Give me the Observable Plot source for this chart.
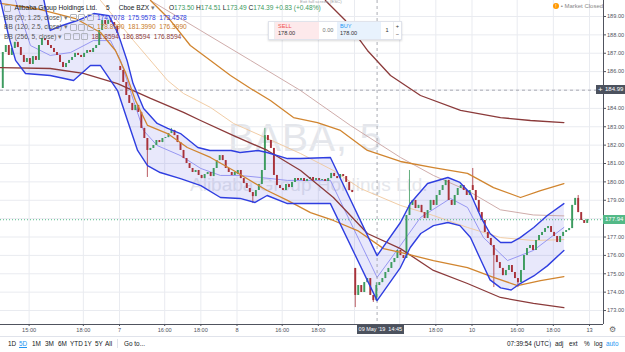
<!DOCTYPE html>
<html><head><meta charset="utf-8">
<script src="https://cdn.jsdelivr.net/npm/d3@7"></script>
<script src="https://cdn.jsdelivr.net/npm/@observablehq/plot@0.6"></script>
<style>
html,body{margin:0;padding:0;background:#fff;}
body{width:625px;height:352px;overflow:hidden;position:relative;font-family:"Liberation Sans",Arial,sans-serif;color:#131722;}
#chart{position:absolute;left:0;top:0;z-index:2;}
.abs{position:absolute;white-space:nowrap;}
.wm1{font-size:39px;color:#e4e6eb;letter-spacing:1px;z-index:1;}
.wm2{font-size:19px;color:#e4e6eb;z-index:1;}
.leg{font-size:6.6px;z-index:3;line-height:8px;}
.ic{display:inline-block;width:5px;height:5px;border:0.8px solid #b2b5be;margin-right:1.5px;vertical-align:middle;border-radius:1px;}
.lbl{z-index:4;font-size:6px;color:#fff;padding:0 2px;height:9px;line-height:9px;}
.tb{font-size:6.4px;color:#131722;z-index:3;}
</style></head><body>
<div id="root"></div>
<script>
// ---------- data ----------
const tickBars   = [18, 54, 78, 108, 132, 156, 186, 210, 234, 264, 288, 312, 342, 366, 390];
const tickLabels = ["15:00","18:00","7","16:00","18:00","8","16:00","18:00","9","16:00","18:00","10","16:00","18:00","13"];
const priceTicks = [173,174,175,176,177,178,179,180,181,182,183,184,185,186,187,188,189];

// 10-minute closes per session (May 6..10, 2019)
const day6  = [187.04,187.42,186.88,187.26,187.59,187.31,186.88,186.50,186.71,186.39,186.82,186.61,187.42,187.80,187.69,187.42,187.26,187.04,186.88,186.50,186.22,186.44,186.61,186.77,186.99,186.88,186.77,186.99,187.15,187.04,187.26,187.42,188.24,188.78,188.57,188.78,188.67,188.46,188.08];
const day7  = [186.06,185.41,184.70,184.27,183.88,184.16,183.78,182.91,182.36,181.71,181.82,181.98,182.25,182.14,182.36,182.41,182.63,182.80,182.52,182.14,181.71,181.27,181.00,180.73,180.51,180.62,180.35,180.18,180.40,180.51,180.29,180.73,181.16,181.43,181.16,180.73,180.51,180.35,180.51];
const day8  = [180.62,180.18,179.91,179.64,179.42,179.20,179.53,179.86,180.62,182.52,182.25,181.82,180.35,179.80,179.64,179.53,179.86,179.69,179.97,180.18,180.08,180.18,180.02,180.13,180.24,180.08,180.18,180.08,180.13,180.02,180.18,180.46,180.29,180.18,180.40,180.29,179.97,179.53,179.42];
const day9  = [173.82,174.36,173.98,174.52,174.74,173.82,173.54,174.36,174.52,174.74,175.07,175.29,175.61,175.83,176.27,175.99,175.83,178.17,178.72,178.99,178.55,178.72,178.33,178.01,178.44,178.99,178.72,179.26,179.53,179.80,180.08,178.99,178.72,179.26,179.64,179.80,179.53,179.26,179.53];
const day10 = [179.53,178.99,178.33,177.90,177.25,176.92,176.54,175.99,175.61,175.29,174.90,175.18,175.45,175.07,174.74,174.52,175.18,175.99,176.37,176.54,176.27,176.81,177.08,177.25,177.46,177.57,177.25,177.03,176.70,177.03,177.25,177.35,177.46,178.72,179.10,178.33,177.90,177.74,177.94];
const dayOpens = [185.08,186.28,180.40,175.29,179.80];
const wickAt = [48, 56, 83, 87, 117, 123, 124, 135, 156, 163, 171, 191];
const wickHi = [null,182.91,null,182.91,null,null,174.51,180.62,180.73,null,null,179.26];
const wickLo = [180.24,null,178.82,null,173.16,173.44,173.49,null,null,174.25,174.25,null];

// Bollinger bands: [bar, price]
const bb20Upper = [[-1,193],[25,191],[32,188.24],[40,188.51],[50,188.78],[61,189.16],[71,189.05],[77,188.08],[83,186.61],[87,185.35],[94,183.99],[103,183.18],[110,182.91],[118.5,182.63],[130,181.87],[138,181.71],[152,181.71],[158,181.6],[170,181.71],[176,181.6],[189.5,181.27],[198,181.27],[218,181.33],[249,175.99],[264.5,177.79],[271,178.82],[282.5,179.91],[296,180.24],[304,179.97],[311,179.37],[318,178.06],[324,177.19],[331,176.7],[338,176.7],[344,176.97],[353,177.52],[362,178.17],[373,178.82]];
const bb20Lower = [[-1,189.87],[4.3,187.97],[9,186.61],[15.6,185.9],[32,185.79],[47.5,185.52],[58.7,186.33],[65.4,186.33],[76.7,184.97],[83.3,183.34],[90,181.71],[96.6,180.89],[105,180.51],[118.5,180.18],[132,179.8],[145,179.15],[158,179.1],[168,178.88],[176,179.26],[189.5,178.82],[198,178.82],[218,178.82],[249,173.54],[264.5,175.34],[271,176.43],[278,177.19],[286.4,177.62],[296,177.79],[304,177.62],[311,176.97],[318,175.72],[324,174.67],[331,174.23],[338,174.12],[344,174.47],[353,174.88],[362,175.43],[373,176.27]];
const bb20Basis = [[9,189.87],[18.9,187.42],[32,186.88],[45.5,187.04],[60.7,187.69],[72,187.69],[78.7,186.61],[87.3,184.43],[93.9,182.8],[103,181.98],[118.5,181.43],[132,180.73],[145,180.35],[158,180.35],[171.6,180.24],[189.5,180.08],[218,180.08],[249,174.8],[264.5,176.54],[277.8,178.06],[297.7,179.1],[309,178.61],[319.6,176.97],[335.6,175.72],[352.8,176.27],[373,177.52]];
const bb120Upper = [[98.6,189.87],[111.9,188.78],[125,187.42],[138.4,186.61],[151.7,185.79],[165,185.08],[178.2,184.43],[193.5,183.5],[209.4,183.23],[224.7,182.8],[242.6,181.71],[264.5,181.11],[286.4,180.78],[309,180.46],[326.3,179.69],[344.2,179.15],[357.5,179.53],[373,179.91]];
const bb120Lower = [[-1,189.71],[25.6,189.38],[48.8,188.89],[65.4,188.13],[75.3,187.15],[82,185.95],[88.6,184.43],[96.6,183.07],[109.9,182.63],[123,181.87],[138.4,181.33],[153.7,180.62],[176,179.53],[189.5,178.99],[204.8,178.33],[220,177.9],[236,177.35],[253.3,176.37],[264.5,176.16],[286.4,175.72],[309,175.34],[326.3,174.8],[342.2,174.36],[357.5,174.63],[373,174.85]];
const bb120Basis = [[65.4,189.87],[87.3,187.69],[109.9,185.52],[120.5,184.81],[138.4,184.05],[153.7,183.18],[176.2,182.36],[198.2,181.54],[220,180.62],[238,179.64],[264.5,178.72],[286.4,178.17],[309,177.52],[330.9,176.97],[352.8,176.81],[373,176.86]];
const bb256Upper = [[214.7,189.87],[228,188.78],[242.6,187.15],[257.9,185.79],[277.8,184.7],[304.4,183.89],[330.9,183.5],[350.8,183.34],[373,183.23]];
const bb256Lower = [[-1,186.22],[32,186.17],[54,185.9],[76.7,185.35],[98.6,184.54],[120.5,183.78],[131.8,183.34],[153.7,182.52],[176.2,181.71],[198.2,180.62],[220,179.15],[242.6,177.19],[264.5,176.37],[286.4,175.18],[309,174.47],[330.9,173.71],[352.8,173.39],[373,173.16]];
const bb256Basis = [[98.6,189.87],[131.8,188.24],[165,186.61],[198.2,184.97],[231.3,183.07],[264.5,181.33],[286.4,180.35],[309,179.53],[330.9,178.48],[352.8,178.2],[373,178.15]];

const lastPrice = 177.94, crossPrice = 184.99, crossBar = 249;

// ---------- build ----------
const closes = [...day6, ...day7, ...day8, ...day9, ...day10];
const perDay = day6.length;
const candles = closes.map((c, k) => {
  const o = k % perDay === 0 ? dayOpens[k / perDay] : closes[k - 1];
  const j = wickAt.indexOf(k);
  const hi = j >= 0 && wickHi[j] != null ? wickHi[j] : Math.max(o, c);
  const lo = j >= 0 && wickLo[j] != null ? wickLo[j] : Math.min(o, c);
  return {bar: 2 * k + 0.5, o, c, hi, lo, up: c >= o};
});
const GREEN = "#3d9b5f", RED = "#a8323a";
const xDomain = [-1, 399.3], yDomain = [172.24, 189.87];
const fillPoly = [...bb20Upper, ...bb20Lower.slice().reverse()];
const labelMap = new Map(tickBars.map((b, i) => [b, tickLabels[i]]));
const px = d => d[0], py = d => d[1];
// labels hidden behind the price / date badges in the screenshot
const axisPriceTicks = priceTicks.filter(p => Math.abs(p - lastPrice) > 0.45 && Math.abs(p - crossPrice) > 0.45);
const axisTimeTicks = tickBars.filter(b => Math.abs(b - crossBar) > 16);

const plot = Plot.plot({
  width: 625, height: 336,
  marginTop: 0, marginLeft: 0, marginRight: 22, marginBottom: 12,
  x: {domain: xDomain},
  y: {domain: yDomain},
  style: {background: "transparent", fontFamily: "Liberation Sans, Arial, sans-serif", color: "#50535e"},
  marks: [
    Plot.gridX(tickBars, {stroke: "#e9ebf0", strokeOpacity: 1}),
    Plot.gridY(priceTicks, {stroke: "#e9ebf0", strokeOpacity: 1}),
    Plot.line(fillPoly, {x: px, y: py, fill: "#4a4ae0", fillOpacity: 0.13, stroke: "none", clip: true}),
    Plot.line(bb256Basis, {x: px, y: py, stroke: "#c9a3a0", strokeWidth: 0.9, clip: true}),
    Plot.line(bb120Basis, {x: px, y: py, stroke: "#efc69b", strokeWidth: 0.9, clip: true}),
    Plot.line(bb20Basis, {x: px, y: py, stroke: "#8d8df0", strokeWidth: 0.9, clip: true}),
    Plot.ruleY([lastPrice], {stroke: "#53b987", strokeDasharray: "1,2", strokeWidth: 1}),
    Plot.ruleY([crossPrice], {stroke: "#9598a1", strokeDasharray: "3,3", strokeWidth: 0.8}),
    Plot.ruleX([crossBar], {stroke: "#9598a1", strokeDasharray: "3,3", strokeWidth: 0.8}),
    Plot.ruleX(candles, {x: "bar", y1: "lo", y2: "hi", stroke: d => d.up ? GREEN : RED, strokeWidth: 0.8}),
    Plot.ruleX(candles, {x: "bar", y1: "o", y2: "c", stroke: d => d.up ? GREEN : RED, strokeWidth: 1.9}),
    Plot.line(bb256Upper, {x: px, y: py, stroke: "#8b3a3a", strokeWidth: 1.3, clip: true}),
    Plot.line(bb256Lower, {x: px, y: py, stroke: "#8b3a3a", strokeWidth: 1.3, clip: true}),
    Plot.line(bb120Upper, {x: px, y: py, stroke: "#d1852f", strokeWidth: 1.3, clip: true}),
    Plot.line(bb120Lower, {x: px, y: py, stroke: "#d1852f", strokeWidth: 1.3, clip: true}),
    Plot.line(bb20Upper, {x: px, y: py, stroke: "#2f3ee0", strokeWidth: 1.4, clip: true}),
    Plot.line(bb20Lower, {x: px, y: py, stroke: "#2f3ee0", strokeWidth: 1.4, clip: true}),
    Plot.ruleY([yDomain[0]], {stroke: "#50535e", strokeWidth: 1}),
    Plot.ruleX([xDomain[1]], {stroke: "#50535e", strokeWidth: 1}),
    Plot.axisX(axisTimeTicks, {tickFormat: d => labelMap.get(d), tickSize: 2, tickPadding: 1.5, fontSize: 5.6, label: null, stroke: "#50535e"}),
    Plot.axisY(axisPriceTicks, {anchor: "right", tickFormat: d => d.toFixed(2), tickSize: 2, tickPadding: 1.5, fontSize: 5.6, label: null, stroke: "#50535e"})
  ]
});
plot.id = "chart";
const root = document.getElementById("root");
root.appendChild(plot);
const xs = plot.scale("x"), ys = plot.scale("y");

function add(html, cls, style) {
  const d = document.createElement("div");
  d.className = "abs " + (cls || "");
  d.innerHTML = html;
  Object.assign(d.style, style);
  root.appendChild(d);
  return d;
}
// watermark
add("BABA, 5", "wm1", {left: "228px", top: "116px"});
add("Alibaba Group Holdings Ltd.", "wm2", {left: "190px", top: "174px"});
// legend
const ic3 = '<span class="ic"></span><span class="ic"></span><span class="ic"></span>';
add('<span class="ic"></span><span style="margin-left:2px">Alibaba Group Holdings Ltd.</span><span style="margin-left:9px">5</span><span style="margin-left:9px">Cboe BZX</span> <span style="color:#777">▾</span><span style="margin-left:14px">O<span style="color:#3d9b5f">173.50</span> H<span style="color:#3d9b5f">174.51</span> L<span style="color:#3d9b5f">173.49</span> C<span style="color:#3d9b5f">174.39</span> <span style="color:#3d9b5f">+0.83 (+0.48%)</span></span>', "leg", {left: "4px", top: "4px"});
add('<span style="color:#555">BB (20, 1.25, close)</span> <span style="color:#777">▾</span> ' + ic3 + ' <span style="color:#2f3ee0">174.7078&nbsp; 175.9578&nbsp; 173.4578</span>', "leg", {left: "4px", top: "13.5px"});
add('<span style="color:#555">BB (120, 2.5, close)</span> <span style="color:#777">▾</span> ' + ic3 + ' <span style="color:#c97a26">178.8990&nbsp; 181.3990&nbsp; 176.3990</span>', "leg", {left: "4px", top: "23px"});
add('<span style="color:#555">BB (256, 5, close)</span> <span style="color:#777">▾</span> ' + ic3 + ' <span style="color:#8b3a3a">181.8594&nbsp; 186.8594&nbsp; 176.8594</span>', "leg", {left: "4px", top: "32.5px"});
// tooltip remnant
add("Exit full screen (ESC)", "", {left: "300px", top: "-0.5px", fontSize: "4.4px", lineHeight: "4.5px", color: "#9aa0a6", zIndex: 3});
// buy / sell widget
add('<div style="display:flex;align-items:stretch;height:17px;border:0.8px solid #e0e3eb;background:#fff;box-shadow:0 1px 2px rgba(0,0,0,0.15);font-size:5.6px">'
  + '<div style="width:5px;border-right:0.5px solid #eee"></div>'
  + '<div style="width:38px;background:#fde9eb;padding:1px 3px;line-height:7px"><span style="color:#ef5350">SELL</span><br><span style="color:#333">178.00</span></div>'
  + '<div style="width:18px;text-align:center;line-height:17px;color:#777">0.00</div>'
  + '<div style="width:38px;background:#e8f2fd;padding:1px 3px;line-height:7px"><span style="color:#2196f3">BUY</span><br><span style="color:#333">178.00</span></div>'
  + '<div style="width:12px;text-align:center;line-height:17px;color:#333">1</div>'
  + '<div style="width:7px;border-left:0.5px solid #eee;text-align:center;line-height:8px;color:#333">+<br>−</div></div>', "", {left: "268px", top: "21px", zIndex: 4});
// market closed
add('<span style="display:inline-block;width:6px;height:6px;border-radius:3px;background:#ff9800;color:#fff;font-size:5px;text-align:center;line-height:6px;vertical-align:middle">!</span> <span style="color:#888">• Market Closed</span>', "", {left: "553px", top: "3px", fontSize: "6px", zIndex: 4});
// price labels
const yl = ys.apply(lastPrice), yc = ys.apply(crossPrice), xc = xs.apply(crossBar);
add(lastPrice.toFixed(2), "lbl", {left: "603px", top: (yl - 4.5) + "px", background: "#53b987", width: "18px"});
add(crossPrice.toFixed(2), "lbl", {left: "603px", top: (yc - 4.5) + "px", background: "#4c525e", width: "18px"});
add("+", "lbl", {left: "596px", top: (yc - 4.5) + "px", background: "#4c525e", width: "3px", fontSize: "8px"});
add("09 May '19 &nbsp;14:45", "lbl", {left: (xc - 20) + "px", top: "325px", background: "#4c525e", fontSize: "5.5px"});
add("⚙", "", {left: "609px", top: "325px", fontSize: "8px", color: "#666", zIndex: 4});
// bottom toolbar
add("", "", {left: "0px", top: "336px", width: "625px", height: "16px", borderTop: "1px solid #e0e3eb", background: "#fff", zIndex: 3});
const tf = ["1D","5D","1M","3M","6M","YTD","1Y","5Y","All"];
const tfX = [8, 19, 32, 45, 58, 70, 84, 95, 105];
tf.forEach((t, i) => add(t, "tb", {left: tfX[i] + "px", top: "340px", color: t === "5D" ? "#2196f3" : "#131722", borderBottom: t === "5D" ? "1px solid #2196f3" : "none"}));
add("", "", {left: "117px", top: "339px", width: "0.8px", height: "9px", background: "#e0e3eb", zIndex: 4});
add("Go to...", "tb", {left: "124px", top: "340px"});
add("07:39:54 (UTC)", "tb", {left: "507px", top: "340px"});
add("", "", {left: "549px", top: "339px", width: "0.8px", height: "9px", background: "#e0e3eb", zIndex: 4});
add("adj", "tb", {left: "555px", top: "340px"});
add("ext", "tb", {left: "569px", top: "340px"});
add("%", "tb", {left: "584px", top: "340px"});
add("log", "tb", {left: "594px", top: "340px"});
add("auto", "tb", {left: "606px", top: "340px", color: "#2196f3"});
</script>
</body></html>
